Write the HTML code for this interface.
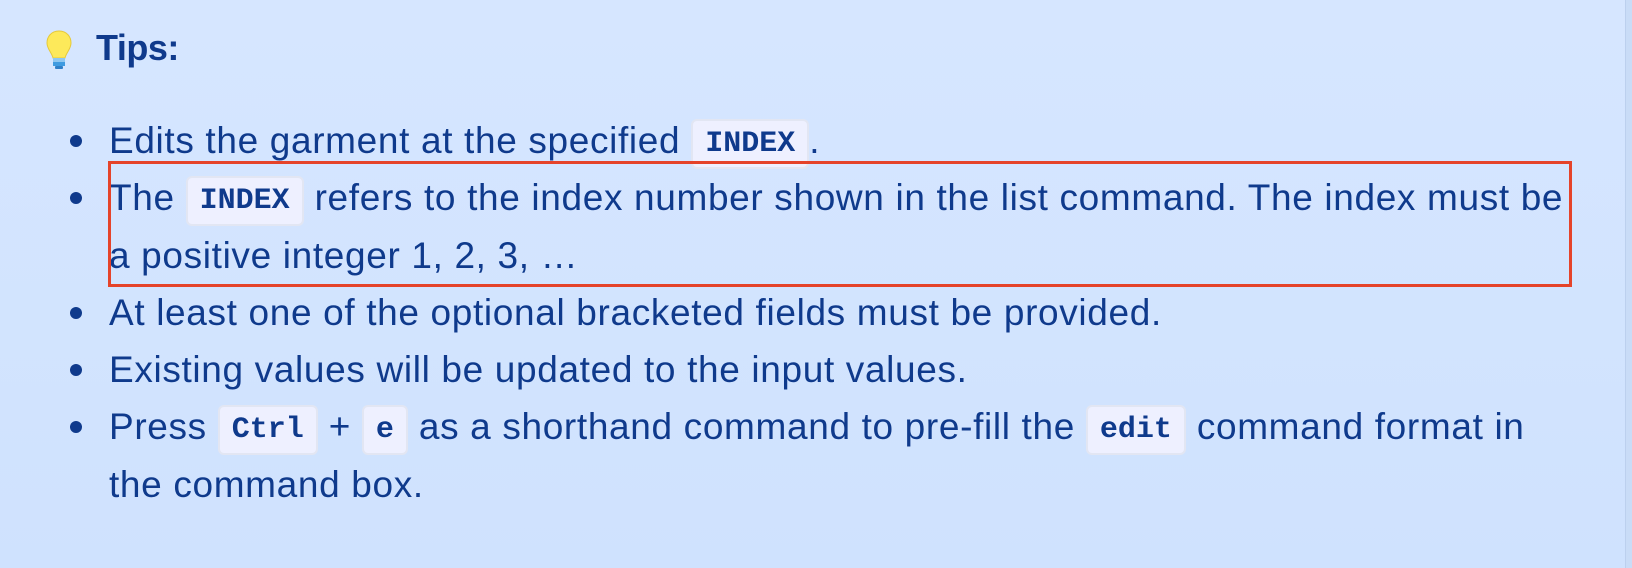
<!DOCTYPE html>
<html><head><meta charset="utf-8"><style>
html,body{margin:0;padding:0}
body{width:1632px;height:568px;overflow:hidden;background:linear-gradient(#d6e6ff,#cfe2fe);font-family:"Liberation Sans",sans-serif;color:#0f3a8c;position:relative}
.edge{position:absolute;right:0;top:0;width:6px;height:568px;background:#c9dcf7;border-left:1px solid #bcd0ee}
.title{position:absolute;left:96px;top:27px;font-size:36px;font-weight:bold;letter-spacing:-0.5px}
.bulb{position:absolute;left:44px;top:29px}
ul{position:absolute;left:0;top:112px;margin:0;padding:0 0 0 109px;width:1462px;list-style:none;font-size:37px;line-height:57.3px;letter-spacing:0.65px}
li{position:relative;height:auto}
li::before{content:"";position:absolute;left:-39px;top:23px;width:12px;height:12px;border-radius:50%;background:#0f3a8c}
code{font-family:"Liberation Mono",monospace;font-size:30px;font-weight:bold;line-height:30px;display:inline-block;vertical-align:2px;background:#eef0ff;border:2px solid #e2e6f3;border-radius:6px;padding:8px 12px;letter-spacing:0}
.box{position:absolute;left:108px;top:161px;width:1458px;height:120px;border:3px solid #e5432a}
</style></head><body>
<div class="edge"></div>
<svg class="bulb" width="30" height="42" viewBox="0 0 30 42">
<path d="M15 2C7 2 3 8 3 14c0 6 5 10 6 15h12c1-5 6-9 6-15C27 8 23 2 15 2z" fill="#fde95a" stroke="#e6c93a"/>
<rect x="9" y="29" width="12" height="4" fill="#8fc7f0"/><rect x="9" y="33" width="12" height="4" fill="#3f9be0"/><rect x="11" y="37" width="8" height="3" rx="1" fill="#2f7fc8"/>
</svg>
<div class="title">Tips:</div>
<ul>
<li>Edits the garment at the specified <code>INDEX</code>.</li>
<li>The <code>INDEX</code> refers to the index number shown in the list command. The index must be a positive integer 1, 2, 3, …</li>
<li>At least one of the optional bracketed fields must be provided.</li>
<li>Existing values will be updated to the input values.</li>
<li>Press <code>Ctrl</code> + <code>e</code> as a shorthand command to pre-fill the <code>edit</code> command format in the command box.</li>
</ul>
<div class="box"></div>
</body></html>
